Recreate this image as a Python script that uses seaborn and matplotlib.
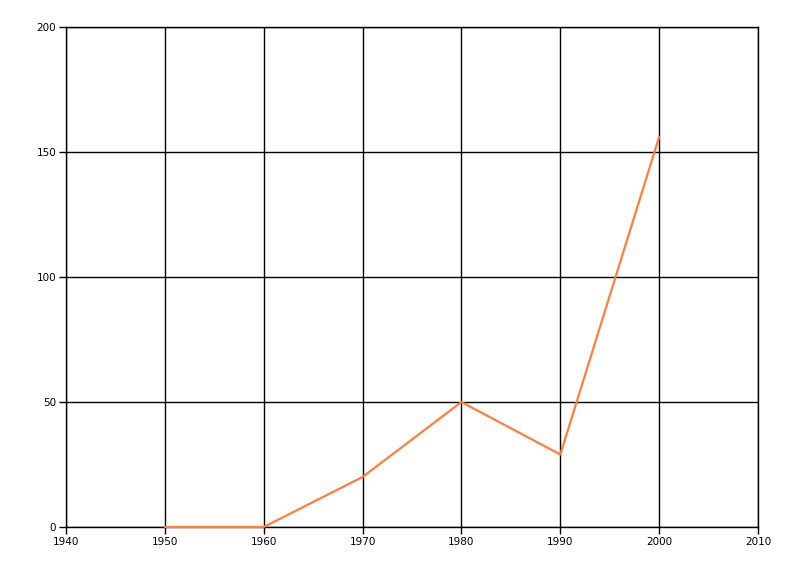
import matplotlib
matplotlib.use("Agg")
import matplotlib.pyplot as plt
import seaborn as sns
import pandas as pd

years = [1950, 1960, 1970, 1980, 1990, 2000]
values = [0, 0, 20, 50, 29, 156]
x_ticks = [1940, 1950, 1960, 1970, 1980, 1990, 2000, 2010]
y_ticks = [0, 50, 100, 150, 200]

sns.set_theme(style="white")
plt.rcParams['font.family'] = ['DejaVu Sans']

df = pd.DataFrame({"year": years, "value": values})

fig = plt.figure(figsize=(8, 5.76), dpi=100)
ax = fig.add_axes([66/800, 1-527/576, (758-66)/800, (527-27)/576])
sns.lineplot(data=df, x="year", y="value", ax=ax, color="#FF7F3F", linewidth=1.6)
for ln in ax.get_lines():
    ln.set_zorder(5)
    ln.set_clip_on(False)

ax.set_xlim(1940, 2010)
ax.set_ylim(0, 200)
ax.set_xticks(x_ticks)
ax.set_yticks(y_ticks)
ax.grid(True, color="black", linewidth=1.0)
ax.set_axisbelow(True)
for s in ax.spines.values():
    s.set_visible(True)
    s.set_color("black")
    s.set_linewidth(1.0)
ax.tick_params(axis='both', which='both', length=5, width=1, color="black",
               labelsize=7.5, labelcolor="black", pad=2, left=True, bottom=True)
ax.set_xlabel("")
ax.set_ylabel("")

fig.savefig("out.png", dpi=100, facecolor="white")
